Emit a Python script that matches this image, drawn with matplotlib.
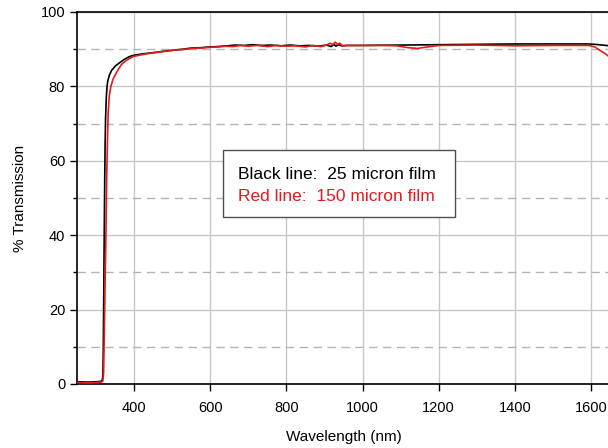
import matplotlib.pyplot as plt
from matplotlib.patches import Rectangle
from matplotlib.ticker import MultipleLocator

plt.rcParams['font.family'] = ['Liberation Sans', 'DejaVu Sans']

# 25 micron film (black)
black_wl = [250, 280, 300, 312, 316, 318, 319, 320, 321, 322, 323, 324, 325, 327, 329, 331,
            335, 341, 350, 360, 367, 375, 384, 393, 402, 420, 445, 468, 490, 510, 530,
            550, 575, 599, 620, 645, 665, 690, 710, 735, 760, 785, 810, 835, 860, 885,
            905, 918, 925, 930, 936, 945, 960, 1000, 1100, 1200, 1300, 1400, 1500,
            1590, 1610, 1630, 1650]
black_tr = [0.6, 0.5, 0.6, 0.7, 0.9, 2.0, 8.0, 20.0, 33.0, 45.0, 56.0, 65.0, 71.0, 77.0, 80.0, 81.5,
            83.0, 84.3, 85.4, 86.2, 86.7, 87.3, 87.8, 88.2, 88.4, 88.7, 89.0, 89.3, 89.6, 89.8, 90.0,
            90.3, 90.4, 90.6, 90.7, 90.9, 91.1, 91.0, 91.2, 91.0, 91.1, 90.9, 91.1, 90.9, 91.0, 90.8,
            91.1, 90.7, 91.3, 90.8, 91.2, 90.9, 91.0, 91.0, 91.1, 91.2, 91.3, 91.4, 91.4,
            91.4, 91.3, 91.1, 90.9]

# 150 micron film (red)
red_wl = [250, 280, 300, 312, 316, 318, 320, 322, 324, 326, 328, 330, 332, 335, 339, 345,
          350, 360, 367, 380, 397, 415, 430, 450, 470, 490, 510, 530, 550, 575, 600,
          620, 640, 660, 680, 700, 725, 750, 775, 800, 825, 850, 870, 890, 905, 915,
          922, 928, 934, 940, 948, 960, 1000, 1050, 1090, 1120, 1145, 1170, 1200, 1300,
          1400, 1500, 1595, 1610, 1625, 1640, 1650]
red_tr = [0.4, 0.3, 0.4, 0.5, 0.6, 0.8, 3.0, 15.0, 28.0, 40.0, 55.0, 65.0, 73.0, 77.5, 80.0, 82.0,
          83.0, 84.8, 85.9, 87.0, 88.0, 88.4, 88.7, 89.0, 89.3, 89.5, 89.8, 89.9, 90.2, 90.3, 90.5,
          90.6, 90.8, 90.7, 91.0, 90.8, 91.0, 90.7, 91.0, 90.8, 90.9, 90.6, 91.0, 90.7, 91.1, 91.6,
          91.2, 91.9, 91.3, 91.6, 90.9, 91.0, 91.0, 91.0, 90.9, 90.4, 90.2, 90.6, 91.0, 91.1,
          90.9, 91.0, 91.0, 90.6, 89.6, 88.6, 87.8]

x_ticks = [400, 600, 800, 1000, 1200, 1400, 1600]

fig = plt.figure(figsize=(6.08, 4.48), dpi=100)
ax = fig.add_axes([0.1266, 0.1429, 0.8767, 0.8304])

ax.plot(black_wl, black_tr, color='black', lw=1.2, zorder=3)
ax.plot(red_wl, red_tr, color='#e41a1c', lw=1.2, zorder=4)

ax.set_xlim(250, 1650)
ax.set_ylim(0, 100)
ax.set_xticks(x_ticks)
ax.yaxis.set_major_locator(MultipleLocator(20))
ax.yaxis.set_minor_locator(MultipleLocator(10))

ax.grid(axis='x', which='major', color='#c8c8c8', lw=1.0)
ax.grid(axis='y', which='major', color='#c8c8c8', lw=1.0)
for yv in [10, 30, 50, 70, 90]:
    ax.axhline(yv, color='#b4b4b4', lw=1.0, ls=(0, (6, 4)), zorder=1)
ax.set_axisbelow(True)

ax.tick_params(axis='both', which='major', direction='out', length=5, width=1, labelsize=10.5)
ax.tick_params(axis='x', which='major', pad=7)
ax.tick_params(axis='y', which='minor', direction='out', length=3, width=1)
ax.spines['right'].set_visible(False)
for s in ['left', 'bottom', 'top']:
    ax.spines[s].set_linewidth(1.2)

ax.set_xlabel('Wavelength (nm)', fontsize=11, labelpad=11)
ax.set_ylabel('% Transmission', fontsize=11, labelpad=10)

# text box
ax.add_patch(Rectangle((0.274, 0.449), 0.435, 0.180, transform=ax.transAxes,
                       facecolor='white', edgecolor='#505050', lw=1.0, zorder=5))
ax.text(0.302, 0.562, 'Black line:  25 micron film', transform=ax.transAxes,
        fontsize=12.5, color='black', va='center', zorder=6)
ax.text(0.302, 0.505, 'Red line:  150 micron film', transform=ax.transAxes,
        fontsize=12.5, color='#e41a1c', va='center', zorder=6)

fig.savefig('out.png', dpi=100)
